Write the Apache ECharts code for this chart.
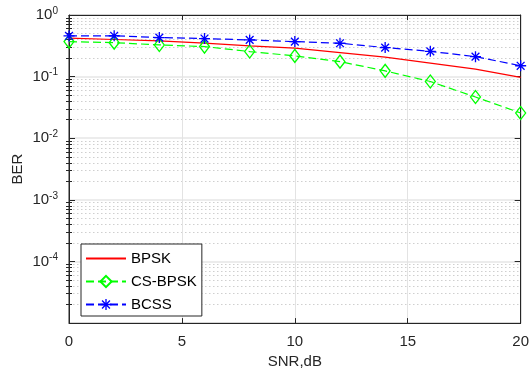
<!DOCTYPE html>
<html>
<head>
<meta charset="utf-8">
<script src="https://cdn.jsdelivr.net/npm/echarts@6/dist/echarts.min.js"></script>
<style>
  html, body { margin: 0; padding: 0; background: #fff; }
  #ber-chart { width: 532px; height: 374px; }
</style>
</head>
<body>
<div id="ber-chart"></div>
<script>
// SNR points (dB) and BER
const snr = [0, 2, 4, 6, 8, 10, 12, 14, 16, 18, 20];
const bpsk = [0.42, 0.40, 0.38, 0.35, 0.315, 0.289, 0.245, 0.207, 0.166, 0.132, 0.097];
const csBpsk = [0.370, 0.356, 0.327, 0.307, 0.255, 0.217, 0.175, 0.124, 0.0833, 0.0466, 0.0257];
const bcss = [0.457, 0.46, 0.43, 0.415, 0.394, 0.37, 0.348, 0.296, 0.257, 0.211, 0.15];

const yDecades = [1e-5, 1e-4, 1e-3, 1e-2, 1e-1, 1];
const yLabelValues = [1e-4, 1e-3, 1e-2, 1e-1, 1];
// minor ticks 2..9 inside every decade
const yMinor = [];
for (let e = -5; e < 0; e++) {
  for (let m = 2; m <= 9; m++) yMinor.push(+(m * Math.pow(10, e)).toPrecision(3));
}

const axisColor = '#262626';
const font = 'Liberation Sans, Arial, Helvetica, sans-serif';

function pairs(ys) {
  return snr.map((x, i) => [x, ys[i]]);
}

// '*' marker as filled bars (vertical, horizontal, two diagonals)
const asterisk = 'path://M8.8 0L11.2 0L11.2 20L8.8 20Z M0 8.8L20 8.8L20 11.2L0 11.2Z' +
  ' M3.78 2.08L17.92 16.22L16.22 17.92L2.08 3.78Z M16.22 2.08L17.92 3.78L3.78 17.92L2.08 16.22Z';

function logAxis(opts) {
  return Object.assign({
    type: 'log',
    logBase: 10,
    min: 1e-5,
    max: 1,
    axisLine: { show: false },
    axisTick: { show: false },
    axisLabel: { show: false },
    splitLine: { show: false },
    silent: true
  }, opts);
}

const chart = echarts.init(document.getElementById('ber-chart'));

const option = {
  animation: false,
  backgroundColor: '#ffffff',
  textStyle: { fontFamily: font },
  grid: {
    left: 69, right: 11, top: 15, bottom: 50, containLabel: false,
    show: true, borderColor: axisColor, borderWidth: 1, backgroundColor: 'transparent'
  },
  legend: {
    orient: 'vertical',
    left: 81,
    top: 244,
    backgroundColor: '#ffffff',
    borderColor: axisColor,
    borderWidth: 1,
    borderRadius: 0,
    padding: [7, 5, 4, 4],
    itemWidth: 40,
    itemHeight: 14,
    itemGap: 8,
    textStyle: { fontSize: 15, color: '#000', fontFamily: font },
    data: [
      { name: 'BPSK', itemStyle: { opacity: 0 } },
      'CS-BPSK',
      'BCSS'
    ]
  },
  xAxis: [
    {
      type: 'value',
      min: 0,
      max: 20,
      interval: 5,
      position: 'bottom',
      name: 'SNR,dB',
      nameLocation: 'middle',
      nameGap: 27,
      nameTextStyle: { fontSize: 15, color: axisColor, fontFamily: font },
      axisLine: { show: true, onZero: false, lineStyle: { color: axisColor, width: 1 } },
      axisTick: { inside: true, length: 5, lineStyle: { color: axisColor } },
      axisLabel: { margin: 11, fontSize: 15, color: axisColor, fontFamily: font },
      splitLine: { show: true, lineStyle: { color: '#e3e3e3', width: 1 } }
    },
    {
      type: 'value',
      min: 0,
      max: 20,
      interval: 5,
      position: 'top',
      axisLine: { show: true, onZero: false, lineStyle: { color: axisColor, width: 1 } },
      axisTick: { inside: true, length: 5, lineStyle: { color: axisColor } },
      axisLabel: { show: false },
      splitLine: { show: false }
    }
  ],
  yAxis: [
    logAxis({
      position: 'left',
      name: 'BER',
      nameLocation: 'middle',
      nameGap: 44,
      nameMoveOverlap: false,
      nameRotate: 90,
      nameTextStyle: { fontSize: 15, color: axisColor, fontFamily: font },
      axisLine: { show: true, onZero: false, lineStyle: { color: axisColor, width: 1 } },
      axisTick: { show: true, inside: true, length: 6, customValues: yDecades, lineStyle: { color: axisColor } },
      axisLabel: {
        show: true,
        customValues: yLabelValues,
        margin: 11,
        fontSize: 15,
        color: axisColor,
        fontFamily: font,
        formatter: function (v) {
          return '10{sup|' + Math.round(Math.log10(v)) + '}';
        },
        rich: {
          sup: { fontSize: 10, color: axisColor, fontFamily: font, verticalAlign: 'bottom', padding: [0, 0, 8, 0] }
        }
      },
      splitLine: { show: true, lineStyle: { color: '#e6e6e6', width: 1.5 } }
    }),
    logAxis({
      position: 'left',
      axisTick: { show: true, inside: true, length: 3, customValues: yMinor, lineStyle: { color: axisColor } },
      splitLine: { show: true, lineStyle: { color: '#cfcfcf', width: 1, type: [1.5, 2.5] } }
    }),
    logAxis({
      position: 'right',
      axisLine: { show: true, onZero: false, lineStyle: { color: axisColor, width: 1 } },
      axisTick: { show: true, inside: true, length: 6, customValues: yDecades, lineStyle: { color: axisColor } }
    }),
    logAxis({
      position: 'right',
      axisTick: { show: true, inside: true, length: 3, customValues: yMinor, lineStyle: { color: axisColor } }
    })
  ],
  series: [
    {
      name: 'BPSK',
      type: 'line',
      data: pairs(bpsk),
      symbol: 'none',
      color: '#ff0000',
      lineStyle: { color: '#ff0000', width: 1.2 },
      emphasis: { disabled: true },
      z: 3
    },
    {
      name: 'CS-BPSK',
      type: 'line',
      data: pairs(csBpsk),
      symbol: 'diamond',
      symbolSize: [10, 13],
      color: '#00ff00',
      itemStyle: { color: 'transparent', borderColor: '#00ff00', borderWidth: 1.3 },
      lineStyle: { color: '#00ff00', width: 1.2, type: [8, 4] },
      emphasis: { disabled: true },
      z: 4
    },
    {
      name: 'BCSS',
      type: 'line',
      data: pairs(bcss),
      symbol: asterisk,
      symbolSize: 11,
      color: '#0000ff',
      itemStyle: { color: '#0000ff' },
      lineStyle: { color: '#0000ff', width: 1.2, type: [8, 4] },
      emphasis: { disabled: true },
      z: 5
    }
  ]
};

chart.setOption(option);
window.onresize = function () {
  chart.resize();
};
</script>
</body>
</html>
